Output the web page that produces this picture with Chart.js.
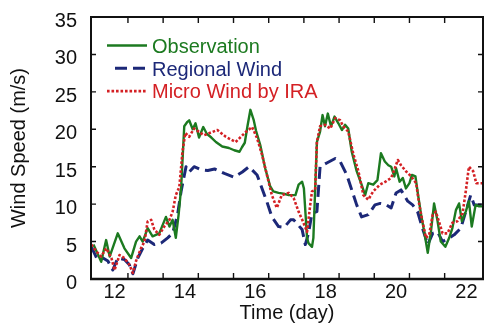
<!DOCTYPE html>
<html>
<head>
<meta charset="utf-8">
<script src="https://cdn.jsdelivr.net/npm/chart.js@4.4.0/dist/chart.umd.min.js"></script>
<style>
html,body{margin:0;padding:0;background:#fff;}
#wrap{width:485px;height:325px;position:relative;}
</style>
</head>
<body>
<div id="wrap"><canvas id="c" width="485" height="325"></canvas></div>
<script>
// ---------- data ----------
const seriesNames = ['Observation', 'Regional Wind', 'Micro Wind by IRA'];

const obsDays = [11.40,11.62,11.76,11.86,12.09,12.28,12.47,12.61,12.71,12.80,12.94,13.08,13.27,13.46,13.56,13.65,13.74,13.82,13.89,13.98,14.07,14.12,14.22,14.30,14.40,14.52,14.62,14.75,14.88,15.06,15.25,15.40,15.55,15.62,15.70,15.78,15.86,15.95,16.02,16.14,16.28,16.42,16.51,16.66,16.80,16.95,17.14,17.23,17.33,17.38,17.47,17.51,17.61,17.65,17.75,17.84,17.91,17.98,18.06,18.15,18.25,18.36,18.46,18.55,18.64,18.74,18.88,19.02,19.12,19.21,19.35,19.47,19.57,19.68,19.78,19.86,19.95,20.00,20.10,20.19,20.28,20.38,20.45,20.55,20.61,20.71,20.80,20.90,20.99,21.08,21.18,21.27,21.40,21.51,21.60,21.70,21.79,21.87,21.98,22.07,22.15,22.26,22.36,22.47];
const obsSpeed = [4.6,2.3,5.2,3.0,6.1,4.1,2.8,5.0,5.7,5.0,6.8,5.7,6.1,8.3,7.0,7.9,5.5,8.6,12.1,20.4,21.0,21.2,20.0,20.8,18.9,20.3,19.4,18.9,18.3,17.7,17.5,17.2,17.0,17.6,18.2,20.5,22.6,21.3,19.8,17.9,14.8,12.4,11.7,11.5,11.4,11.2,11.2,12.6,13.0,12.1,5.5,4.8,4.3,5.5,18.3,19.7,21.9,20.4,22.1,20.4,21.7,20.8,19.9,20.6,20.1,17.0,14.4,12.6,11.2,12.8,12.6,13.2,16.8,15.7,15.2,15.0,13.7,14.8,13.0,13.5,12.1,12.8,13.9,13.7,11.7,8.6,6.3,3.5,6.3,10.1,7.7,5.0,4.3,5.5,6.8,9.2,10.1,7.7,9.0,10.4,7.0,9.9,9.7,9.7];

const regDays = [11.34,11.53,11.67,11.81,11.95,12.09,12.28,12.42,12.52,12.66,12.80,12.94,13.13,13.32,13.51,13.65,13.79,13.89,14.03,14.12,14.26,14.45,14.65,14.84,15.12,15.40,15.63,15.82,16.05,16.19,16.33,16.47,16.66,16.82,17.00,17.09,17.33,17.42,17.51,17.61,17.75,17.84,18.03,18.27,18.41,18.60,18.74,18.88,19.02,19.21,19.40,19.55,19.72,19.86,20.00,20.14,20.33,20.47,20.61,20.75,20.90,21.04,21.18,21.32,21.51,21.65,21.84,21.98,22.12,22.22,22.36,22.47];
const regSpeed = [4.3,2.4,2.8,2.4,1.2,2.8,2.6,1.9,0.7,2.8,4.1,5.2,4.6,4.8,5.5,6.1,8.6,11.7,15.0,14.3,15.0,14.6,14.5,14.7,14.1,13.6,14.3,15.0,13.9,12.1,10.3,8.3,7.0,6.9,7.9,7.9,6.6,4.6,6.1,8.8,9.0,15.0,15.5,16.1,15.7,13.9,11.9,9.9,8.3,8.6,9.9,10.1,9.9,9.5,11.5,11.9,10.4,9.9,9.0,6.8,4.6,6.1,6.3,5.0,5.5,5.9,6.8,9.0,11.2,9.9,9.9,9.9];

const iraDays = [11.34,11.48,11.62,11.76,11.91,12.00,12.14,12.28,12.42,12.52,12.61,12.75,12.85,12.94,13.04,13.13,13.27,13.41,13.56,13.65,13.74,13.84,13.93,14.01,14.12,14.26,14.54,14.92,15.16,15.44,15.72,15.91,16.05,16.19,16.33,16.47,16.61,16.75,16.95,17.09,17.23,17.37,17.47,17.56,17.61,17.70,17.75,17.84,17.98,18.13,18.27,18.41,18.50,18.64,18.79,18.93,19.07,19.21,19.35,19.54,19.70,19.86,19.95,20.05,20.14,20.28,20.43,20.57,20.66,20.75,20.85,20.94,21.04,21.13,21.23,21.32,21.46,21.60,21.74,21.89,21.98,22.07,22.19,22.28,22.47];
const iraSpeed = [4.6,3.7,3.0,4.1,2.8,1.2,3.2,2.8,1.9,0.8,2.4,4.1,5.0,7.7,7.9,6.6,5.9,7.0,7.9,9.0,11.2,12.3,17.0,19.5,19.0,20.1,19.2,19.9,19.0,18.3,19.6,20.3,18.8,16.6,13.9,11.2,9.5,11.2,11.5,10.8,9.0,7.5,6.3,9.9,11.7,11.9,18.3,20.4,20.6,20.1,21.5,21.2,20.4,19.7,16.6,14.4,11.2,10.6,11.7,12.6,13.0,13.5,14.6,15.9,15.2,14.4,13.7,12.8,9.9,7.7,5.5,5.9,8.6,9.0,7.5,6.1,6.1,7.5,7.7,8.8,11.7,15.0,14.4,12.8,12.8];

const xTickDays = [12,13,14,15,16,17,18,19,20,21,22];
const xTickLabels = ['12','14','16','18','20','22'];
const yTickValues = [0,5,10,15,20,25,30,35];

// ---------- styling ----------
const FONT = {family: '"Liberation Sans", Arial, Helvetica, sans-serif', size: 20};
const TICK_SHIFT = 0.38;   // tick marks sit slightly right of their labels in the reference
const COLORS = ['#1c7a20', '#1c2878', '#d42024'];

const toPts = (xs, ys) => xs.map((d, i) => ({x: d, y: ys[i]}));

const framePlugin = {
  id: 'frame',
  afterDatasetsDraw(chart) {
    const {ctx, chartArea: {left, top, right, bottom}, scales: {x, y}} = chart;
    ctx.save();
    ctx.strokeStyle = '#111';
    ctx.lineWidth = 2;
    ctx.strokeRect(left, top, right - left, bottom - top);
    ctx.lineWidth = 2.6;
    ctx.beginPath(); ctx.moveTo(left - 1, bottom); ctx.lineTo(right + 1, bottom); ctx.stroke();
    ctx.lineWidth = 1.4;
    ctx.beginPath();
    x.ticks.forEach((t, i) => {
      const px = x.getPixelForTick(i);
      if (px < left + 5 || px > right - 5) return;
      ctx.moveTo(px, bottom); ctx.lineTo(px, bottom - 6);
      ctx.moveTo(px, top); ctx.lineTo(px, top + 6);
    });
    y.ticks.forEach((t, i) => {
      const py = y.getPixelForTick(i);
      if (py < top + 4 || py > bottom - 4) return;
      ctx.moveTo(left, py); ctx.lineTo(left + 5, py);
      ctx.moveTo(right, py); ctx.lineTo(right - 5, py);
    });
    ctx.stroke();
    ctx.restore();
  }
};

const legendPlugin = {
  id: 'insideLegend',
  afterDraw(chart, args, opts) {
    const {ctx, chartArea: {left, top}} = chart;
    ctx.save();
    ctx.font = `${FONT.size}px ${FONT.family}`;
    ctx.textBaseline = 'alphabetic';
    ctx.textAlign = 'left';
    chart.data.datasets.forEach((ds, i) => {
      const rowY = top + 28.5 + i * 22.8;
      const x1 = left + (opts.sampleStart[i] || 16);
      const x2 = left + 56;
      ctx.strokeStyle = ds.borderColor;
      ctx.lineWidth = ds.borderWidth;
      ctx.setLineDash(ds.borderDash || []);
      ctx.beginPath(); ctx.moveTo(x1, rowY); ctx.lineTo(x2, rowY); ctx.stroke();
      ctx.setLineDash([]);
      ctx.fillStyle = ds.borderColor;
      ctx.fillText(ds.label, left + 61, rowY + 7.2);
    });
    ctx.restore();
  }
};

new Chart(document.getElementById('c'), {
  type: 'line',
  data: {
    datasets: [
      {label: seriesNames[0], data: toPts(obsDays, obsSpeed), borderColor: COLORS[0], borderWidth: 2.4, borderDash: [], order: 1},
      {label: seriesNames[1], data: toPts(regDays, regSpeed), borderColor: COLORS[1], borderWidth: 3, borderDash: [12, 6], order: 2},
      {label: seriesNames[2], data: toPts(iraDays, iraSpeed), borderColor: COLORS[2], borderWidth: 2.6, borderDash: [2.6, 1.9], order: 0}
    ]
  },
  options: {
    responsive: false,
    animation: false,
    devicePixelRatio: 1,
    layout: {padding: {top: 17, right: 2, left: 0, bottom: 0}},
    elements: {point: {radius: 0}, line: {tension: 0, fill: false, borderCapStyle: 'butt', borderJoinStyle: 'round'}},
    plugins: {
      legend: {display: false},
      tooltip: {enabled: false},
      insideLegend: {sampleStart: [16, 24, 16]}
    },
    scales: {
      x: {
        type: 'linear', min: 11.33, max: 22.47,
        afterBuildTicks: s => { s.ticks = xTickDays.map(d => ({value: d + TICK_SHIFT})); },
        afterFit: s => { s.height = 46; s.paddingLeft = 0; s.paddingRight = 0; },
        grid: {drawOnChartArea: false, drawTicks: false},
        border: {display: false},
        ticks: {
          autoSkip: false, maxRotation: 0, minRotation: 0, padding: 1, labelOffset: -13.4,
          color: '#111', font: FONT,
          callback: v => { const d = String(Math.round(v - TICK_SHIFT)); return xTickLabels.includes(d) ? d : ''; }
        },
        title: {display: true, text: 'Time (day)', color: '#111', font: FONT, padding: {top: 0, bottom: 0}}
      },
      y: {
        type: 'linear', min: 0, max: 35,
        afterBuildTicks: s => { s.ticks = yTickValues.map(v => ({value: v})); },
        afterFit: s => { s.width = 91; s.paddingTop = 0; s.paddingBottom = 0; },
        grid: {drawOnChartArea: false, drawTicks: false},
        border: {display: false},
        ticks: {padding: 14, labelOffset: 4.5, color: '#111', font: FONT},
        title: {display: true, text: 'Wind Speed (m/s)', color: '#111', font: FONT, padding: {top: 7, bottom: 0}}
      }
    }
  },
  plugins: [framePlugin, legendPlugin]
});
</script>
</body>
</html>
